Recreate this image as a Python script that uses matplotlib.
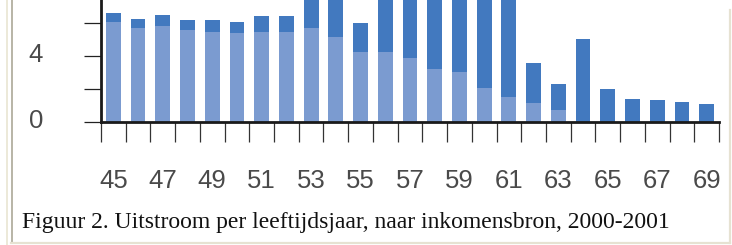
import matplotlib
matplotlib.use("Agg")
import matplotlib.pyplot as plt
from matplotlib import font_manager
from matplotlib.font_manager import FontProperties
from matplotlib.lines import Line2D
import matplotlib.transforms as mtransforms
import numpy as np

# ---------------- data ----------------
ages = list(range(45, 70))
# lower (light) segment
light_vals = [6.04, 5.72, 5.84, 5.60, 5.48, 5.38, 5.45, 5.45, 5.70, 5.13,
              4.24, 4.24, 3.90, 3.21, 3.01, 2.08, 1.52, 1.18, 0.75, 0.0,
              0.0, 0.0, 0.0, 0.0, 0.0]
# bar totals (bars for 53,54,56-61 run off the top of the visible area)
total_vals = [6.61, 6.27, 6.51, 6.16, 6.16, 6.04, 6.41, 6.41, 7.60, 7.80,
              6.00, 8.50, 9.00, 9.50, 10.00, 10.50, 9.00, 3.58, 2.33, 5.03,
              1.98, 1.42, 1.32, 1.19, 1.07]
dark_vals = [t - l for t, l in zip(total_vals, light_vals)]
ytick_vals = [0, 2, 4, 6]
ytick_labels = ["0", "", "4", ""]
caption = "Figuur 2. Uitstroom per leeftijdsjaar, naar inkomensbron, 2000-2001"

# ---------------- fonts ----------------
def has_font(name):
    try:
        font_manager.findfont(FontProperties(family=name), fallback_to_default=False)
        return True
    except Exception:
        return False

if has_font("Liberation Sans Narrow"):
    tick_family = ["Liberation Sans Narrow", "DejaVu Sans"]
    tick_size = 21.0
else:
    tick_family = ["Liberation Sans", "DejaVu Sans"]
    tick_size = 18.5
serif_family = ["Liberation Serif", "DejaVu Serif"]

W, H, DPI = 732, 245, 100
fig = plt.figure(figsize=(W / DPI, H / DPI), dpi=DPI)
fig.patch.set_facecolor("white")

ax_left, ax_right = 101 / W, 719 / W
ax_bottom = (H - 122) / H
ax = fig.add_axes([ax_left, ax_bottom, ax_right - ax_left, 1 - ax_bottom])
ax.set_facecolor("white")

x = np.arange(len(ages))
c_light = "#7b9bd0"
c_dark = "#4279bf"
ax.bar(x, light_vals, width=0.6, color=c_light, linewidth=0, zorder=2)
ax.bar(x, dark_vals, width=0.6, bottom=light_vals, color=c_dark, linewidth=0, zorder=2)

ax.set_xlim(-0.5, len(ages) - 0.5)
ax.set_ylim(0, 122 / 16.5)

for s in ["top", "right"]:
    ax.spines[s].set_visible(False)
for s in ["left", "bottom"]:
    ax.spines[s].set_color("#1a1a1a")
    ax.spines[s].set_linewidth(2.0)
    ax.spines[s].set_zorder(3)

label_color = "#4a4a4a"

# x ticks: boundaries as long minor ticks, labels every 2 years
ax.set_xticks(x[::2])
ax.set_xticklabels([str(a) for a in ages[::2]])
ax.set_xticks(np.arange(-0.5, len(ages), 1.0), minor=True)
ax.tick_params(axis="x", which="major", length=0, pad=34,
               labelsize=tick_size, labelcolor=label_color)
ax.tick_params(axis="x", which="minor", length=14.4, width=0.9, color="#333333")
for lab in ax.get_xticklabels():
    lab.set_family(tick_family)

ax.set_yticks(ytick_vals)
ax.set_yticklabels(ytick_labels)
ax.tick_params(axis="y", which="major", length=12.6, width=0.9, color="#222222",
               pad=29, labelsize=tick_size, labelcolor=label_color)
shift = mtransforms.ScaledTranslation(0, 3 / 100, fig.dpi_scale_trans)
for lab in ax.get_yticklabels():
    lab.set_family(tick_family)
    lab.set_transform(lab.get_transform() + shift)

# caption fitted to measured width
cap = fig.text(21.7 / W, (H - 228) / H, caption, family=serif_family,
               fontsize=17, color="#111111", ha="left", va="baseline")
fig.canvas.draw()
r = fig.canvas.get_renderer()
w = cap.get_window_extent(r).width
cap.set_fontsize(17 * 650 / w)

# frame lines (page border)
def fline(xs, ys, color, lw):
    fig.add_artist(Line2D([v / W for v in xs], [(H - v) / H for v in ys],
                          color=color, linewidth=lw, transform=fig.transFigure))

fline([6.5, 6.5], [0, 245], "#ece9d8", 1.4)
fline([11.5, 11.5], [0, 243], "#b8b4a6", 1.4)
fline([11, 730], [242.5, 242.5], "#e6e2d2", 1.6)
fline([729.5, 729.5], [10, 243], "#e6e2d2", 1.6)

fig.savefig("out.png", dpi=DPI, facecolor="white")
